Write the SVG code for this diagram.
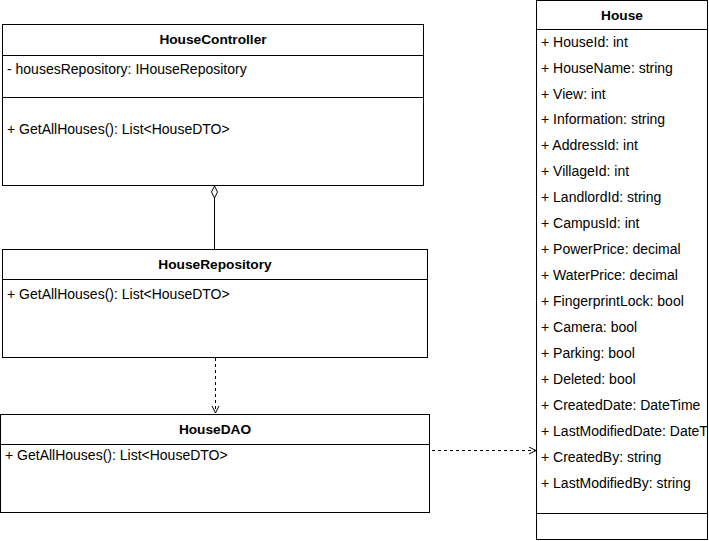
<svg xmlns="http://www.w3.org/2000/svg" width="709" height="541" viewBox="0 0 709 541">
<style>
.box{fill:#fff;stroke:#000;stroke-width:1}
.ln{stroke:#000;stroke-width:1;fill:none}
.t{font-family:"Liberation Sans",Arial,sans-serif;font-size:14px;fill:#000}
.h{font-family:"Liberation Sans",Arial,sans-serif;font-size:13.7px;font-weight:bold;fill:#000;text-anchor:middle}
.dash{stroke:#000;stroke-width:1;fill:none;stroke-dasharray:3 3}
</style>
<defs>
<marker id="open" markerWidth="10" markerHeight="10" refX="8" refY="4" orient="auto" markerUnits="userSpaceOnUse">
<path d="M1,0.5 L8,4 L1,7.5" fill="none" stroke="#000" stroke-width="1"/>
</marker>
<clipPath id="hc"><rect x="536.5" y="0" width="171" height="541"/></clipPath>
</defs>
<g id="connectors">
<path class="ln" d="M214.5,198 L214.5,249"/>
<path d="M214.5,186 L217.5,192 L214.5,198 L211.5,192 Z" fill="#fff" stroke="#000" stroke-width="1"/>
<path class="dash" d="M215.5,358 L215.5,413" marker-end="url(#open)"/>
<path class="dash" d="M432,450.5 L536,450.5" marker-end="url(#open)"/>
</g>
<g id="HouseController">
<rect class="box" x="2.5" y="24.5" width="421" height="161"/>
<line class="ln" x1="2.5" y1="55.5" x2="423.5" y2="55.5"/>
<line class="ln" x1="2.5" y1="97.5" x2="423.5" y2="97.5"/>
<text class="h" x="213" y="44">HouseController</text>
<text class="t" x="7" y="74">- housesRepository: IHouseRepository</text>
<text class="t" x="7" y="134">+ GetAllHouses(): List&lt;HouseDTO&gt;</text>
</g>
<g id="HouseRepository">
<rect class="box" x="2.5" y="249.5" width="425" height="108"/>
<line class="ln" x1="2.5" y1="279.5" x2="427.5" y2="279.5"/>
<text class="h" x="215" y="269">HouseRepository</text>
<text class="t" x="7" y="299">+ GetAllHouses(): List&lt;HouseDTO&gt;</text>
</g>
<g id="HouseDAO">
<rect class="box" x="0.5" y="414.5" width="429" height="98"/>
<line class="ln" x1="0.5" y1="444.5" x2="429.5" y2="444.5"/>
<text class="h" x="215" y="434">HouseDAO</text>
<text class="t" x="5" y="460">+ GetAllHouses(): List&lt;HouseDTO&gt;</text>
</g>
<g id="House">
<rect class="box" x="536.5" y="0.5" width="171" height="539"/>
<line class="ln" x1="536.5" y1="29.5" x2="707.5" y2="29.5"/>
<line class="ln" x1="536.5" y1="513.5" x2="707.5" y2="513.5"/>
<text class="h" x="622" y="20">House</text>
<g clip-path="url(#hc)">
<text class="t" x="541" y="47">+ HouseId: int</text>
<text class="t" x="541" y="73">+ HouseName: string</text>
<text class="t" x="541" y="99">+ View: int</text>
<text class="t" x="541" y="124">+ Information: string</text>
<text class="t" x="541" y="150">+ AddressId: int</text>
<text class="t" x="541" y="176">+ VillageId: int</text>
<text class="t" x="541" y="202">+ LandlordId: string</text>
<text class="t" x="541" y="228">+ CampusId: int</text>
<text class="t" x="541" y="254">+ PowerPrice: decimal</text>
<text class="t" x="541" y="280">+ WaterPrice: decimal</text>
<text class="t" x="541" y="306">+ FingerprintLock: bool</text>
<text class="t" x="541" y="332">+ Camera: bool</text>
<text class="t" x="541" y="358">+ Parking: bool</text>
<text class="t" x="541" y="384">+ Deleted: bool</text>
<text class="t" x="541" y="410">+ CreatedDate: DateTime</text>
<text class="t" x="541" y="436">+ LastModifiedDate: DateTime</text>
<text class="t" x="541" y="462">+ CreatedBy: string</text>
<text class="t" x="541" y="488">+ LastModifiedBy: string</text>
</g>
</g>
</svg>
